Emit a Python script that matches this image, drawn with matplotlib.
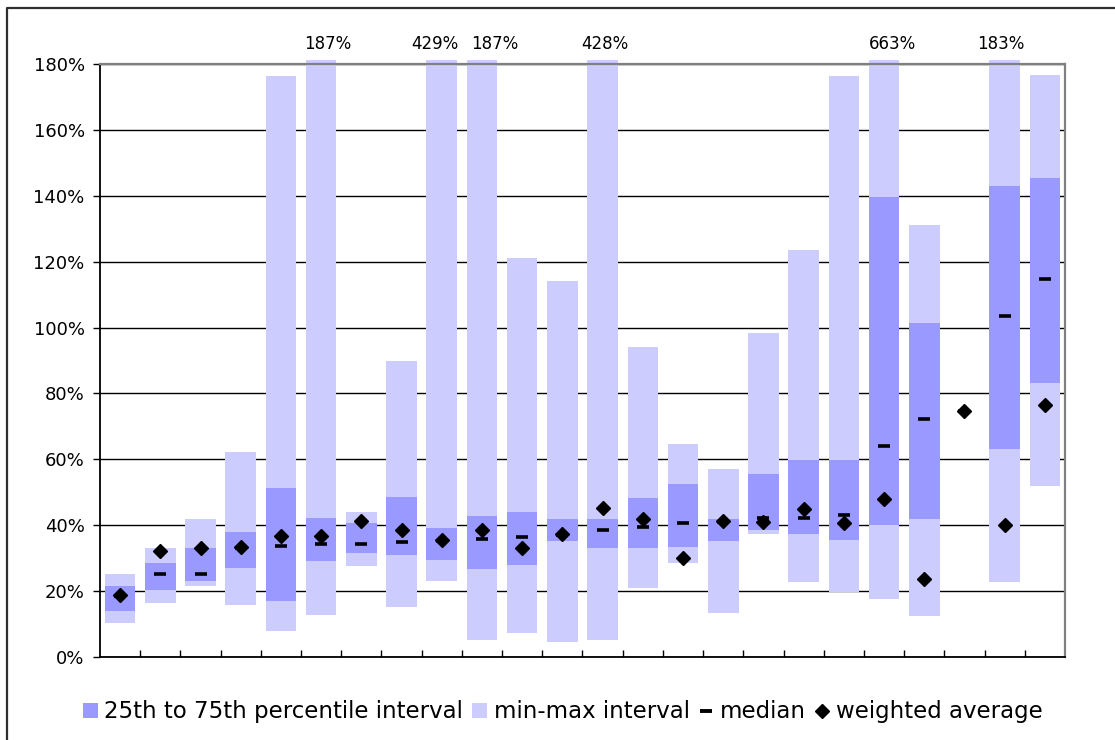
import matplotlib
matplotlib.use("Agg")
import matplotlib.pyplot as plt
from matplotlib.patches import Patch
from matplotlib.lines import Line2D
import numpy as np

# values in percent, one entry per group (24 groups)
mins = [10.2, 16.3, 21.5, 15.7, 8.0, 12.9, 27.6, 15.1, 23.1, 5.2, 7.4, 4.6,
        5.2, 21.0, 28.5, 13.3, 37.2, 22.7, 19.7, 17.7, 12.4, 74.6, 22.7, 51.9]
q1 = [14.0, 20.4, 23.2, 27.0, 17.1, 29.0, 31.7, 30.9, 29.4, 26.8, 27.9, 35.3,
      33.0, 33.0, 33.3, 35.3, 38.7, 37.2, 35.6, 40.0, 42.0, 74.6, 63.1, 83.2]
medians = [18.5, 25.1, 25.1, 33.2, 33.8, 34.4, 34.4, 34.9, 35.3, 35.7, 36.3, 37.0,
           38.4, 39.5, 40.6, 41.0, 42.3, 42.3, 43.1, 64.1, 72.1, 74.6, 103.4, 114.6]
q3 = [21.4, 28.4, 33.0, 37.8, 51.3, 42.1, 40.6, 48.5, 39.1, 42.7, 43.9, 41.8,
      41.8, 48.2, 52.4, 41.8, 55.4, 59.7, 59.7, 139.6, 101.4, 74.6, 142.9, 145.3]
maxs = [25.2, 33.0, 41.8, 62.3, 176.4, 187, 43.9, 90.0, 429, 187, 121.2, 114.2,
        428, 94.0, 64.6, 57.0, 98.2, 123.4, 176.4, 663, 131.0, 74.6, 183, 176.8]
wavg = [18.8, 32.3, 33.1, 33.4, 36.8, 36.7, 41.2, 38.4, 35.4, 38.7, 33.2, 37.2,
        45.2, 42.0, 30.1, 41.3, 40.9, 44.8, 40.6, 48.1, 23.8, 74.6, 40.0, 76.6]

dark = "#9999FF"
light = "#CCCCFF"
ymax = 180
cap = 181.2  # bars above the axis are cut a hair above the top line
# small sideways nudges for the "out of range" labels
label_dx = {5: 0.17, 8: -0.18, 9: 0.32, 12: 0.05, 19: 0.2, 22: -0.1}

plt.rcParams['font.family'] = ['DejaVu Sans']

fig = plt.figure(figsize=(11.15, 7.40), dpi=100)
ax = fig.add_axes([100 / 1115, 83 / 740, 965 / 1115, 593 / 740])

x = np.arange(len(mins))
top = np.minimum(maxs, cap)
ax.bar(x, top - np.array(mins), bottom=mins, width=0.76, color=light,
       zorder=2, clip_on=False)
ax.bar(x, np.array(q3) - np.array(q1), bottom=q1, width=0.76, color=dark,
       zorder=3)
ax.plot(x, medians, linestyle="none", marker="_", markersize=8.6,
        markeredgewidth=2.6, color="black", zorder=4)
ax.plot(x, wavg, linestyle="none", marker="D", markersize=7,
        color="black", zorder=5)

# values beyond the axis are written above their bar
for i, m in enumerate(maxs):
    if m > ymax:
        ax.text(i + label_dx.get(i, 0), 186, f"{m:.0f}%", ha="center",
                va="center", fontsize=12, clip_on=False)

ax.set_xlim(-0.5, len(mins) - 0.5)
ax.set_ylim(0, ymax)
ax.set_yticks(np.arange(0, 181, 20))
ax.set_yticklabels([f"{v}%" for v in range(0, 181, 20)], fontsize=13)
ax.tick_params(axis="y", direction="out", length=5, width=1, pad=6)
ax.set_xticks([])
ax.set_xticks(np.arange(0.5, len(mins) - 0.5, 1), minor=True)
ax.tick_params(axis="x", which="minor", direction="in", length=5, width=1)
ax.yaxis.grid(True, color="black", linewidth=1)
ax.set_axisbelow(True)

for side in ["left", "bottom"]:
    ax.spines[side].set_color("black")
    ax.spines[side].set_linewidth(1.3)
for side in ["top", "right"]:
    ax.spines[side].set_color("#808080")
    ax.spines[side].set_linewidth(1.6)

handles = [
    Patch(facecolor=dark, label="25th to 75th percentile interval"),
    Patch(facecolor=light, label="min-max interval"),
    Line2D([], [], linestyle="none", marker="_", markersize=8,
           markeredgewidth=2.8, color="black", label="median"),
    Line2D([], [], linestyle="none", marker="D", markersize=7,
           color="black", label="weighted average"),
]
fig.legend(handles=handles, loc="center", bbox_to_anchor=(0.505, 0.038),
           ncol=4, frameon=False, fontsize=16.5, handlelength=0.62,
           handleheight=0.65, handletextpad=0.3, columnspacing=0.4)

# outer chart border (only left and top edges are visible)
fig.add_artist(Line2D([6.5 / 1115, 6.5 / 1115, 1.0], [0.0, 1 - 7.5 / 740, 1 - 7.5 / 740],
                      transform=fig.transFigure, color="#303030", linewidth=1.6))

fig.savefig("out.png", dpi=100)
